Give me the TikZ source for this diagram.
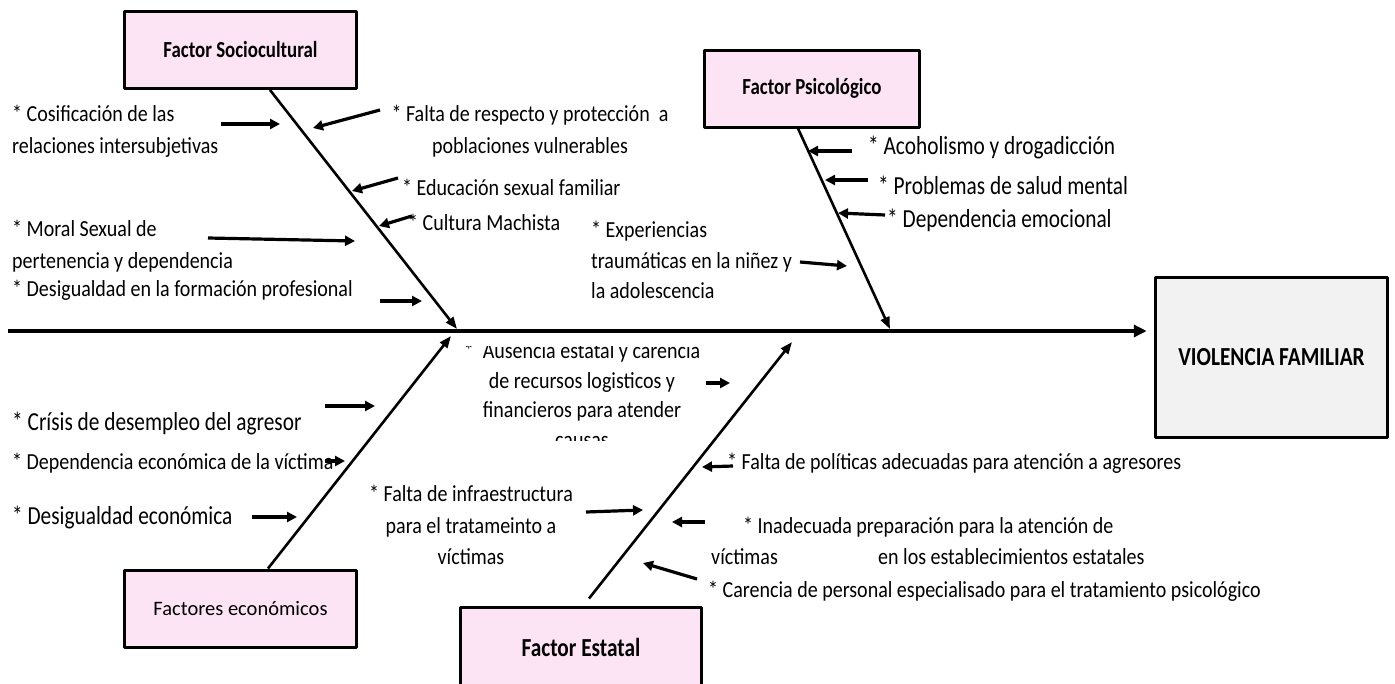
\documentclass[tikz,border=0pt]{standalone}
\usepackage{fontspec}
\setmainfont{Carlito}
\newfontfamily\narrowfont[FakeStretch=0.82]{Carlito}
\newfontfamily\causefont[FakeStretch=0.87]{Carlito}
\usetikzlibrary{arrows.meta,positioning}
\definecolor{factorpink}{RGB}{252,228,244}
\definecolor{effectgray}{RGB}{242,242,242}
\tikzset{
  every picture/.append style={line join=round},
  fish factor/.style={draw,line width=3pt,fill=factorpink,minimum width=232pt,minimum height=77pt,inner sep=2pt},
  fish effect/.style={draw,line width=3.5pt,fill=effectgray,minimum width=232pt,minimum height=160pt,inner sep=2pt},
  fish spine/.style={line width=4pt,-{Triangle[length=13pt,width=12pt]}},
  fish bone/.style={line width=2.6pt,-{Triangle[length=12pt,width=9pt]}},
  fish cause/.style={line width=3.2pt,-{Triangle[length=10pt,width=10pt]}}
}
\begin{document}
\begin{tikzpicture}[
  x=1pt,y=-1pt,
  causetext/.style={font=\causefont\fontsize{23}{32}\selectfont,inner sep=0pt,anchor=west,align=left},
  bigtext/.style={font=\narrowfont\fontsize{26}{31}\selectfont,inner sep=0pt,anchor=west},
  titletext/.style={font=\narrowfont\bfseries\fontsize{23}{28}\selectfont}
]
\useasboundingbox (0,0) rectangle (1395,683);

% boxes
\node[fish factor,minimum width=232pt,titletext] (socio) at (240.5,50) {Factor Sociocultural};
\node[fish factor,minimum width=215pt,titletext] (psico) at (812,88.5) {Factor Psicológico};
\node[fish factor,font=\fontsize{20.5}{25}\selectfont] (econ) at (240.5,608.5) {Factores económicos};
\node[fish factor,minimum width=241pt,minimum height=80pt,font=\narrowfont\bfseries\fontsize{26}{31}\selectfont] (estatal) at (581,647) {Factor Estatal};
\node[fish effect,font=\narrowfont\bfseries\fontsize{26}{31}\selectfont] (efecto) at (1271.5,357.5) {VIOLENCIA FAMILIAR};

% spine and bones
\coordinate (tail) at (8,331);
\draw[fish spine,shorten >=7pt] (tail) -- (tail -| efecto.west);
\coordinate (sociojoin) at (457,329);
\coordinate (psicojoin) at (890,329);
\coordinate (econjoin) at (451,336);
\coordinate (estataljoin) at (792,342);
\draw[fish bone] ([xshift=29.5pt]socio.south) -- (sociojoin);
\draw[fish bone] ([xshift=-14pt]psico.south) -- (psicojoin);
\draw[fish bone] ([xshift=27.5pt]econ.north) -- (econjoin);
\draw[fish bone] ([xshift=8pt,yshift=7pt]estatal.north) -- (estataljoin);

% sociocultural causes
\node[causetext] (cosif) at (12,131) {* Cosificación de las\\relaciones intersubjetivas};
\node[causetext,anchor=center,align=center] (respeto) at (530,131) {* Falta de respecto y protección~ a\\poblaciones vulnerables};
\node[causetext] (educ) at (402,187) {* Educación sexual familiar};
\node[causetext] (machista) at (408,222) {* Cultura Machista};
\node[causetext] (moral) at (12,246) {* Moral Sexual de\\pertenencia y dependencia};
\node[causetext] (formacion) at (12,290) {* Desigualdad en la formación profesional};

% psychological causes
\node[causetext,font=\causefont\fontsize{23}{30.5}\selectfont] (trauma) at (591,260) {* Experiencias\\traumáticas en la niñez y\\la adolescencia};
\node[bigtext] (alcohol) at (868,148) {* Acoholismo y drogadicción};
\node[bigtext] (mental) at (878,185) {* Problemas de salud mental};
\node[bigtext] (emocional) at (887,220) {* Dependencia emocional};

% economic causes
\node[bigtext] (desempleo) at (12,423) {* Crísis de desempleo del agresor};
\node[causetext] (dependencia) at (12,463) {* Dependencia económica de la víctima};
\node[bigtext] (desigualdad) at (12,517) {* Desigualdad económica};

% state causes
\begin{scope}
  \clip (455,346) rectangle (705,440);
  \node[causetext,anchor=center,align=center,font=\causefont\fontsize{23}{29.7}\selectfont] (ausencia) at (582,395) {*~ Ausencia estatal y carencia\\de recursos logisticos y\\financieros para atender\\causas};
\end{scope}
\node[causetext] (politicas) at (727,463) {* Falta de políticas adecuadas para atención a agresores};
\node[causetext,anchor=center,align=center,font=\causefont\fontsize{23}{31.5}\selectfont] (infra) at (471,525) {* Falta de infraestructura\\para el tratameinto a\\víctimas};
\node[causetext,font=\causefont\fontsize{23}{31}\selectfont] (preparacion) at (711,540.5) {\hspace*{32pt}* Inadecuada preparación para la atención de\\\makebox[167pt][l]{víctimas}en los establecimientos estatales};
\node[causetext] (personal) at (708,591) {* Carencia de personal especialisado para el tratamiento psicológico};

% cause arrows
\coordinate (cosifA) at (221,124); \coordinate (cosifB) at (280,124);
\coordinate (respetoA) at (380,110); \coordinate (respetoB) at (313,128);
\coordinate (educA) at (398,178); \coordinate (educB) at (352,191);
\coordinate (machistaA) at (412,216); \coordinate (machistaB) at (379,226);
\coordinate (moralA) at (208,238); \coordinate (moralB) at (355,241);
\coordinate (formacionA) at (380,301); \coordinate (formacionB) at (422,301);
\coordinate (alcoholA) at (852,151); \coordinate (alcoholB) at (808,151);
\coordinate (mentalA) at (868,180); \coordinate (mentalB) at (825,180);
\coordinate (emocionalA) at (885,215); \coordinate (emocionalB) at (838,213);
\coordinate (traumaA) at (800,262); \coordinate (traumaB) at (847,266);
\coordinate (desempleoA) at (325,406); \coordinate (desempleoB) at (375,406);
\coordinate (dependenciaA) at (325,461); \coordinate (dependenciaB) at (345,461);
\coordinate (desigualdadA) at (252,517); \coordinate (desigualdadB) at (297,517);
\coordinate (ausenciaA) at (706,383); \coordinate (ausenciaB) at (730,383);
\coordinate (politicasA) at (733,466); \coordinate (politicasB) at (702,467);
\coordinate (infraA) at (586,512); \coordinate (infraB) at (643,510);
\coordinate (preparacionA) at (705,522); \coordinate (preparacionB) at (672,522);
\coordinate (personalA) at (697,579); \coordinate (personalB) at (643,563);
\draw[fish cause] (cosifA) -- (cosifB);
\draw[fish cause] (respetoA) -- (respetoB);
\draw[fish cause] (educA) -- (educB);
\draw[fish cause] (machistaA) -- (machistaB);
\draw[fish cause] (moralA) -- (moralB);
\draw[fish cause] (formacionA) -- (formacionB);
\draw[fish cause] (alcoholA) -- (alcoholB);
\draw[fish cause] (mentalA) -- (mentalB);
\draw[fish cause] (emocionalA) -- (emocionalB);
\draw[fish cause] (traumaA) -- (traumaB);
\draw[fish cause] (desempleoA) -- (desempleoB);
\draw[fish cause] (dependenciaA) -- (dependenciaB);
\draw[fish cause] (desigualdadA) -- (desigualdadB);
\draw[fish cause] (ausenciaA) -- (ausenciaB);
\draw[fish cause] (politicasA) -- (politicasB);
\draw[fish cause] (infraA) -- (infraB);
\draw[fish cause] (preparacionA) -- (preparacionB);
\draw[fish cause] (personalA) -- (personalB);
\end{tikzpicture}
\end{document}
